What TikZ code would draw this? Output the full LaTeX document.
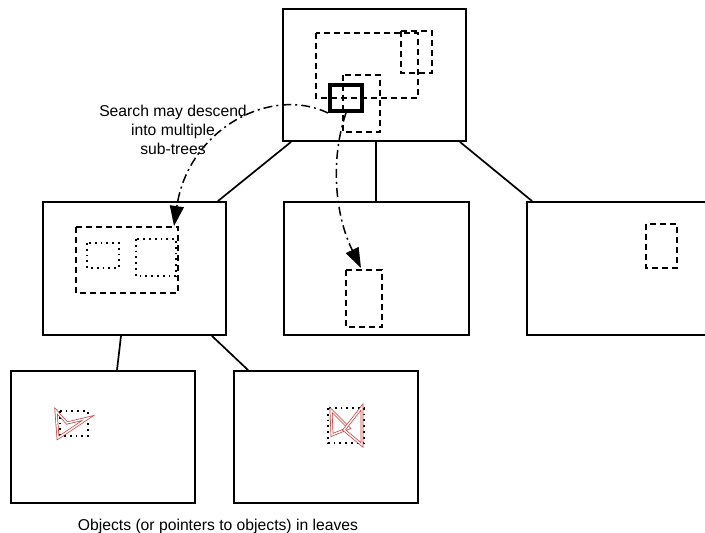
\documentclass[tikz,border=0pt]{standalone}
\usepackage{fontspec}
\setmainfont{Liberation Sans}
\usetikzlibrary{arrows.meta, positioning, calc}
\definecolor{objred}{RGB}{205, 55, 55}

\begin{document}
\begin{tikzpicture}[x=1pt, y=-1pt,
    treebox/.style={rectangle, draw, line width=1.7pt, minimum width=184pt, minimum height=132pt, inner sep=0pt},
    mbr/.style={draw, line width=1.5pt, dash pattern=on 6pt off 4pt},
    subbox/.style={draw, line width=1.8pt, dash pattern=on 1.8pt off 4pt},
    query/.style={rectangle, draw, line width=4pt, minimum width=32pt, minimum height=26pt, inner sep=0pt},
    search/.style={-{Triangle[length=20pt,width=14pt]}, line width=1.5pt, dash pattern=on 9pt off 4pt on 2pt off 4pt},
    edge/.style={line width=1.7pt},
    obj/.style={draw=objred, double=white, double distance=1.4pt, line width=0.7pt, line join=miter},
    note/.style={font=\fontsize{15.7}{19}\selectfont, align=center, inner sep=0pt}
]
\useasboundingbox (0,0) rectangle (705,533);

% Tree nodes
\node[treebox, minimum width=183pt] (root) at (374.5,75) {};
\node[treebox, minimum width=183pt, minimum height=133pt] (midL) at (134.5,268.5) {};
\node[treebox, minimum width=185pt, minimum height=133pt] (midC) at (376.5,268.5) {};
\node[treebox, minimum width=185pt, minimum height=133pt] (midR) at (619.5,268.5) {};
\node[treebox] (leafL) at (103,437) {};
\node[treebox] (leafR) at (326,437) {};

% Edges of the tree
\draw[edge] ($(root.south west)+(9,0)$) -- ($(midL.north east)+(-9,0)$);
\draw[edge, line width=2pt] ($(root.south)+(1.5,0)$) -- ($(midC.north)+(-0.5,0)$);
\draw[edge] ($(root.south east)+(-7,0)$) -- ($(midR.north west)+(6,0)$);
\draw[edge] ($(midL.south)+(-13.5,0)$) -- ($(leafL.north)+(14,0)$);
\draw[edge] ($(midL.south east)+(-15,0)$) -- ($(leafR.north west)+(15,0)$);

% Bounding boxes in the root
\draw[mbr] (316,33) rectangle (418,98);
\draw[mbr] (401,31) rectangle (432,73);
\draw[mbr] (343,75) rectangle (380,132);
\node[query] (q) at (346,98) {};

% Bounding boxes in the inner nodes
\draw[mbr] (76,227) rectangle (178,293);
\draw[subbox] (87,243) rectangle (119,268);
\draw[subbox] (136,239) rectangle (176,276);
\coordinate (hitL) at (174,226);
\draw[mbr] (346,270) rectangle (382,327);
\coordinate (hitC) at (361,268);
\draw[mbr] (646,224) rectangle (677,268);

% Objects in the leaves
\draw[subbox] (60,411) rectangle (88,436);
\draw[obj] (56,411) -- (67,423) -- (88,418) -- (58,438) -- cycle;
\draw[subbox] (328,408) rectangle (364,443);
\draw[obj] (331,410) -- (349,428) -- (332,435) -- cycle;
\draw[obj] (362,407) -- (362,445) -- (344,430) -- cycle;

% Search paths
\draw[search] (q.south west) .. controls (270,85) and (188,130) .. (hitL);
\draw[search] (q.south) .. controls (330,160) and (335,215) .. (hitC);

% Labels
\node[note] (searchlbl) at (173,130) {Search may descend\\into multiple\\sub-trees};
\node[note] (leaflbl) at (218,526) {Objects (or pointers to objects) in leaves};
\end{tikzpicture}
\end{document}
